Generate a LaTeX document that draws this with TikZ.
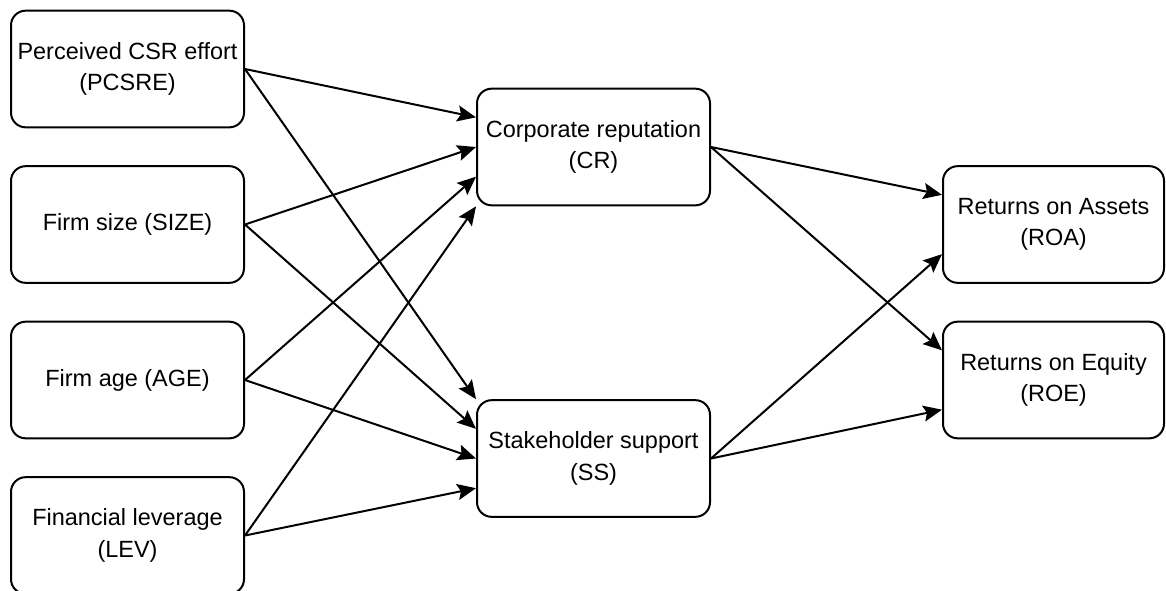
\documentclass[tikz,border=0pt]{standalone}
\usepackage{fontspec}
\setmainfont{Liberation Sans}
\usetikzlibrary{arrows.meta,calc}
\begin{document}
\begin{tikzpicture}[x=0.75pt,y=-0.75pt]
	\tikzset{feld/.style={rectangle, rounded corners=11pt, draw=black, line width=1.5pt, minimum width=174.75pt, minimum height=87.5pt, inner sep=2pt, align=center, font=\fontsize{17.6}{23.5}\selectfont}}
	\tikzset{pfeil/.style={line width=1.5pt, -{Stealth[length=14pt,width=12pt,inset=2.5pt]}}}
	\useasboundingbox (0,0) rectangle (1166,590);

	% Predictors
	\node[feld] at (127.5, 69) (pcsre) {Perceived CSR effort\\(PCSRE)};
	\node[feld] at (127.5, 224.5) (size) {Firm size (SIZE)};
	\node[feld] at (127.5, 380) (age) {Firm age (AGE)};
	\node[feld] at (127.5, 535.5) (lev) {Financial leverage\\(LEV)};

	% Mediators
	\node[feld] at (593.5, 147) (cr) {Corporate reputation\\(CR)};
	\node[feld] at (593.5, 458.5) (ss) {Stakeholder support\\(SS)};

	% Outcomes
	\node[feld, minimum width=165.75pt] at (1053.5, 224.5) (roa) {Returns on Assets\\(ROA)};
	\node[feld, minimum width=165.75pt] at (1053.5, 380) (roe) {Returns on Equity\\(ROE)};

	% Into CR
	\draw[pfeil] (pcsre.east) -- ($(cr.north west)!0.25!(cr.south west)$);
	\draw[pfeil] (size.east) -- (cr.west);
	\draw[pfeil] (age.east) -- ($(cr.north west)!0.75!(cr.south west)$);
	\draw[pfeil] (lev.east) -- (cr.south west);

	% Into SS
	\draw[pfeil] (pcsre.east) -- (ss.north west);
	\draw[pfeil] (size.east) -- ($(ss.north west)!0.25!(ss.south west)$);
	\draw[pfeil] (age.east) -- (ss.west);
	\draw[pfeil] (lev.east) -- ($(ss.north west)!0.75!(ss.south west)$);

	% Into ROA and ROE
	\draw[pfeil] (cr.east) -- ($(roa.north west)!0.25!(roa.south west)$);
	\draw[pfeil] (cr.east) -- ($(roe.north west)!0.25!(roe.south west)$);
	\draw[pfeil] (ss.east) -- ($(roa.north west)!0.75!(roa.south west)$);
	\draw[pfeil] (ss.east) -- ($(roe.north west)!0.75!(roe.south west)$);
\end{tikzpicture}
\end{document}
